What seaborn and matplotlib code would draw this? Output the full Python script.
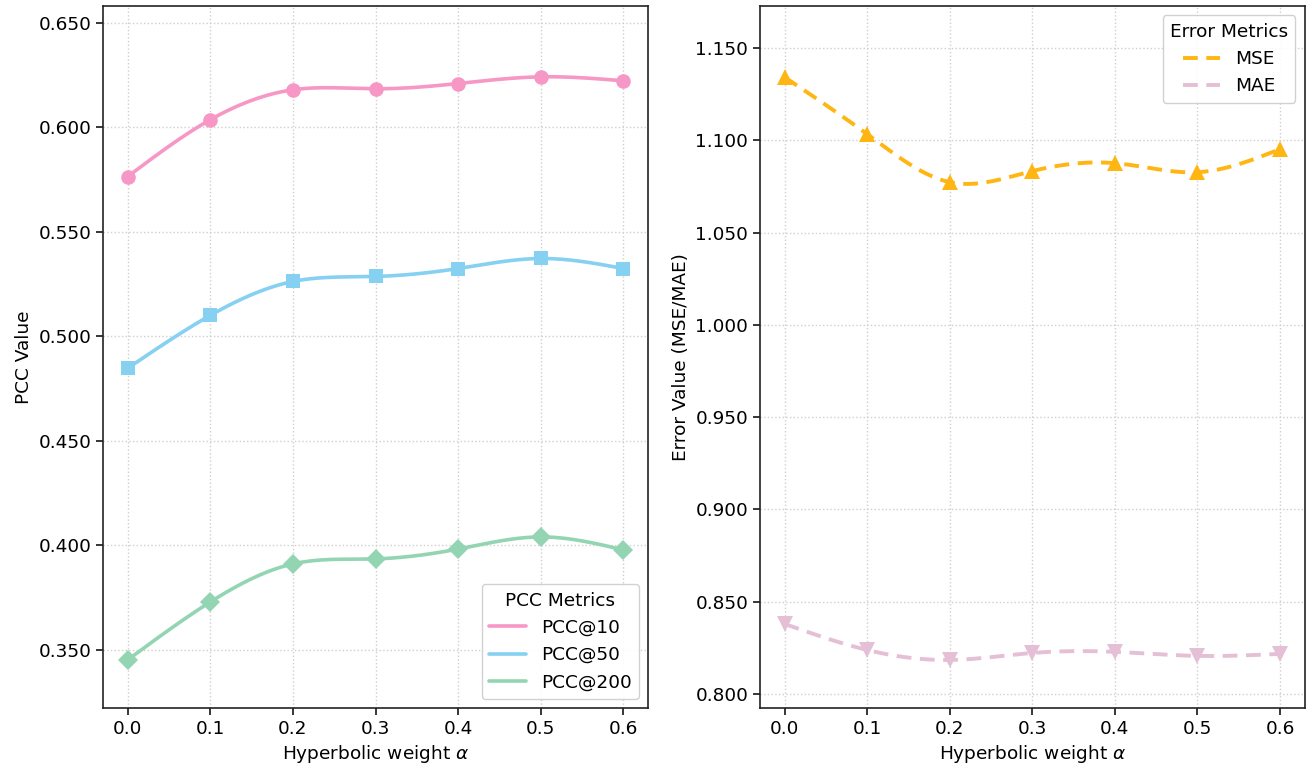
import numpy as np
import pandas as pd
import matplotlib
matplotlib.use("Agg")
import matplotlib.pyplot as plt
import seaborn as sns

# hyperbolic weight values
alpha = [0.0, 0.1, 0.2, 0.3, 0.4, 0.5, 0.6]

pcc10 = [0.5765, 0.6037, 0.6180, 0.6185, 0.6210, 0.6242, 0.6223]
pcc50 = [0.4848, 0.5101, 0.5263, 0.5287, 0.5325, 0.5373, 0.5325]
pcc200 = [0.3453, 0.3730, 0.3912, 0.3936, 0.3983, 0.4041, 0.3979]

mse = [1.1343, 1.1034, 1.0774, 1.0834, 1.0877, 1.0828, 1.0953]
mae = [0.8379, 0.8238, 0.8184, 0.8222, 0.8228, 0.8206, 0.8217]


def smooth(x, y, n=300):
    # natural cubic spline, just for drawing the curve
    x = np.asarray(x, float)
    y = np.asarray(y, float)
    k = len(x)
    h = x[1] - x[0]
    A = np.zeros((k, k))
    b = np.zeros(k)
    A[0, 0] = 1
    A[-1, -1] = 1
    for i in range(1, k - 1):
        A[i, i - 1:i + 2] = [1, 4, 1]
        b[i] = 6 / h**2 * (y[i + 1] - 2 * y[i] + y[i - 1])
    M = np.linalg.solve(A, b)
    xs = np.linspace(x[0], x[-1], n)
    idx = np.clip(((xs - x[0]) // h).astype(int), 0, k - 2)
    x0, x1 = x[idx], x[idx + 1]
    ys = (M[idx] * (x1 - xs)**3 / (6 * h) + M[idx + 1] * (xs - x0)**3 / (6 * h)
          + (y[idx] / h - M[idx] * h / 6) * (x1 - xs)
          + (y[idx + 1] / h - M[idx + 1] * h / 6) * (xs - x0))
    return xs, ys


sns.set_style("ticks")
plt.rcParams['font.family'] = ['DejaVu Sans']
plt.rcParams['font.size'] = 13.3
plt.rcParams['text.color'] = 'black'
plt.rcParams['axes.labelcolor'] = 'black'
plt.rcParams['xtick.color'] = 'black'
plt.rcParams['ytick.color'] = 'black'

fig = plt.figure(figsize=(13.08, 7.72), dpi=100)
ax1 = fig.add_axes([0.0787, 0.083, 0.4955 - 0.0787, 0.992 - 0.083])
ax2 = fig.add_axes([0.581, 0.083, 0.9975 - 0.581, 0.992 - 0.083])

left_series = [("PCC@10", pcc10, "#F797C6", "o", 10.5),
               ("PCC@50", pcc50, "#86D0F2", "s", 10.5),
               ("PCC@200", pcc200, "#93D5B3", "D", 10)]
for name, vals, col, mk, ms in left_series:
    xs, ys = smooth(alpha, vals)
    sns.lineplot(x=xs, y=ys, ax=ax1, color=col, linewidth=2.6, label=name)
    sns.lineplot(x=alpha, y=vals, ax=ax1, color=col, linestyle="none",
                 marker=mk, markersize=ms, markeredgewidth=0)

right_series = [("MSE", mse, "#FFB612", "^"),
                ("MAE", mae, "#E5BFD6", "v")]
for name, vals, col, mk in right_series:
    xs, ys = smooth(alpha, vals)
    sns.lineplot(x=xs, y=ys, ax=ax2, color=col, linewidth=2.8, label=name,
                 dashes=False, linestyle=(0, (3.8, 2.2)))
    sns.lineplot(x=alpha, y=vals, ax=ax2, color=col, linestyle="none",
                 marker=mk, markersize=12, markeredgewidth=0)

for ax in (ax1, ax2):
    ax.set_xticks(alpha)
    ax.set_xticklabels([f"{a:.1f}" for a in alpha])
    ax.set_xlim(-0.03, 0.63)
    ax.grid(True, linestyle=":", color="#cfcfcf", linewidth=1.0)
    ax.set_xlabel(r"Hyperbolic weight $\alpha$")
    for s in ax.spines.values():
        s.set_color("#222222")
        s.set_linewidth(1.2)
    ax.tick_params(length=5, width=1.1, colors="black", labelsize=13.3)

ax1.set_ylim(0.3223, 0.658)
ax1.set_yticks([0.35, 0.40, 0.45, 0.50, 0.55, 0.60, 0.65])
ax1.set_yticklabels([f"{v:.3f}" for v in ax1.get_yticks()])
ax1.set_ylabel("PCC Value")
ax1.legend(title="PCC Metrics", loc="lower right", framealpha=0.9,
           edgecolor="#cccccc", fontsize=13.3, title_fontsize=13.3)

ax2.set_ylim(0.7924, 1.1728)
ax2.set_yticks([0.80, 0.85, 0.90, 0.95, 1.00, 1.05, 1.10, 1.15])
ax2.set_yticklabels([f"{v:.3f}" for v in ax2.get_yticks()])
ax2.set_ylabel("Error Value (MSE/MAE)")
ax2.legend(title="Error Metrics", loc="upper right", framealpha=0.9,
           edgecolor="#cccccc", fontsize=13.3, title_fontsize=13.3)

fig.savefig("out.png", dpi=100)
